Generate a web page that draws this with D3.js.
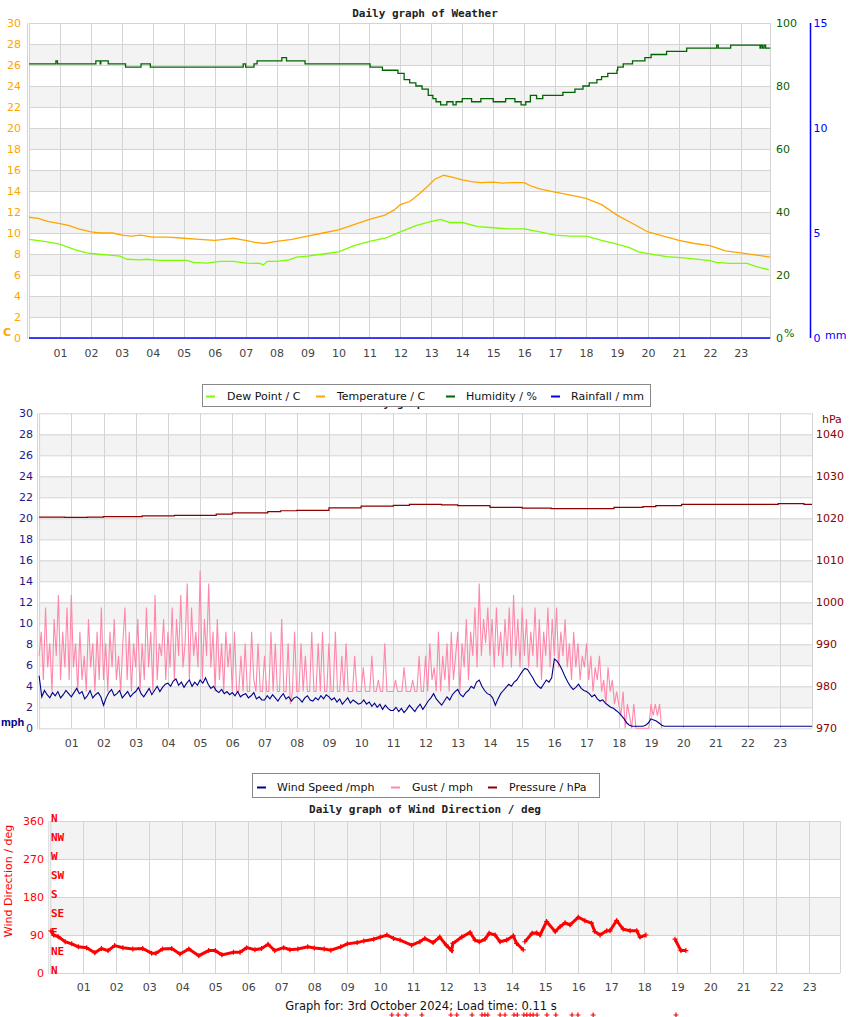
<!DOCTYPE html>
<html><head><meta charset="utf-8">
<script src="https://cdn.jsdelivr.net/npm/d3@7"></script>
<style>body{margin:0;background:#fff;} svg{display:block;font-family:"DejaVu Sans",sans-serif;}</style>
</head><body><svg id="c" width="850" height="1017"></svg>
<script>
// ---------------- DATA ----------------
const hourLabels = ["01","02","03","04","05","06","07","08","09","10","11","12","13","14","15","16","17","18","19","20","21","22","23"];
const tempTicks = [0,2,4,6,8,10,12,14,16,18,20,22,24,26,28,30];
const humTicks = [0,20,40,60,80,100];
const rainTicks = [0,5,10,15];
const windTicks = [0,2,4,6,8,10,12,14,16,18,20,22,24,26,28,30];
const pressTicks = [970,980,990,1000,1010,1020,1030,1040];
const dirTicks = [0,90,180,270,360];
const compassLabels = [["N",360],["NW",315],["W",270],["SW",225],["S",180],["SE",135],["E",90],["NE",45],["N",0]];

// [hour, value]
const humidity = [[0,87],[0.85,87],[0.87,88],[0.92,87],[2.15,87],[2.16,88],[2.3,87],[2.32,88],[2.55,88],[2.56,87],[3.1,87],[3.12,86],[3.6,86],[3.62,87],[3.9,87],[3.92,86],[6.9,86],[6.92,87],[7.0,86],[7.25,86],[7.27,87],[7.35,87],[7.37,88],[8.15,88],[8.17,89],[8.3,89],[8.32,88],[8.9,88],[8.92,87],[11.0,87],[11.02,86],[11.4,86],[11.42,85],[11.9,85],[11.92,84],[12.1,84],[12.12,82],[12.3,81],[12.5,80],[12.7,79],[12.9,77],[13.05,76],[13.15,75],[13.3,74],[13.5,75],[13.7,74],[13.8,75],[14.0,76],[14.3,75],[14.6,76],[15.0,75],[15.4,76],[15.7,75],[15.9,74],[16.05,75],[16.2,77],[16.4,76],[16.6,77],[16.83,77],[17.2,77],[17.25,78],[17.6,78],[17.64,79],[17.9,80],[18.1,81],[18.35,82],[18.5,83],[18.7,84],[19.0,85],[19.02,86],[19.2,87],[19.5,88],[19.9,89],[20.1,90],[20.6,91],[21.25,92],[22.2,92],[22.22,93],[22.27,92],[22.65,92],[22.67,93],[23.6,93],[23.62,92],[23.65,93],[23.7,92],[23.75,93],[23.8,92],[23.95,92]];

const temperature = [[0,11.5],[0.3,11.4],[0.6,11.1],[1,10.9],[1.3,10.7],[1.6,10.4],[2,10.1],[2.3,10.0],[2.7,10.0],[3,9.8],[3.3,9.7],[3.6,9.8],[4,9.6],[4.5,9.6],[5,9.5],[5.5,9.4],[6,9.3],[6.3,9.4],[6.6,9.5],[7,9.3],[7.3,9.1],[7.6,9.0],[8,9.2],[8.5,9.4],[9,9.7],[9.5,10.0],[10,10.3],[10.5,10.8],[11,11.3],[11.5,11.7],[11.8,12.2],[12,12.7],[12.3,13.0],[12.6,13.7],[12.9,14.5],[13.1,15.1],[13.4,15.5],[13.7,15.3],[14,15.05],[14.3,14.9],[14.6,14.8],[15,14.85],[15.3,14.75],[15.6,14.8],[16,14.8],[16.2,14.5],[16.5,14.2],[17,13.9],[17.5,13.6],[18,13.3],[18.5,12.7],[19,11.7],[19.5,10.9],[20,10.1],[20.5,9.7],[21,9.3],[21.5,9.0],[22,8.8],[22.5,8.3],[23,8.1],[23.5,7.9],[23.95,7.7]];

const dewPoint = [[0,9.4],[0.5,9.2],[1,8.95],[1.5,8.4],[1.86,8.1],[2.19,8.0],[2.6,7.9],[2.94,7.8],[3.16,7.5],[3.59,7.45],[3.8,7.5],[4.2,7.4],[5.1,7.4],[5.3,7.2],[5.74,7.14],[6.17,7.3],[6.6,7.3],[7.03,7.14],[7.46,7.1],[7.57,6.95],[7.7,7.3],[8.0,7.3],[8.4,7.45],[8.65,7.7],[9,7.8],[9.5,8.0],[10,8.2],[10.5,8.8],[11,9.2],[11.5,9.5],[12,10.1],[12.5,10.7],[13,11.1],[13.3,11.3],[13.6,11.0],[14,11.0],[14.5,10.6],[15,10.5],[15.5,10.4],[16,10.4],[16.5,10.1],[17,9.8],[17.5,9.7],[18,9.7],[18.5,9.3],[19,8.95],[19.4,8.6],[19.7,8.2],[19.97,8.06],[20.6,7.75],[21.25,7.6],[22.0,7.36],[22.2,7.2],[22.65,7.1],[23.2,7.1],[23.5,6.8],[23.9,6.5]];

const rainfall = [[0,0],[23.95,0]];

// wind speed, 5-minute samples from 00:00 (mph)
const windSpeed = [
 5.0,3.0,3.6,3.2,2.9,3.4,3.1,3.5,2.9,3.2,3.6,3.3,
 3.0,3.4,3.8,3.3,3.5,2.8,3.1,3.6,2.9,3.2,3.4,3.0,
 2.2,2.9,3.4,3.7,3.1,3.3,3.6,2.9,3.2,3.5,3.0,3.3,
 3.5,3.9,3.3,3.0,3.4,3.8,3.2,3.6,4.0,3.5,3.9,4.2,
 4.3,4.0,4.5,4.7,4.1,4.4,3.9,4.3,4.6,4.0,4.4,4.1,
 4.6,4.3,4.8,4.2,3.8,4.0,3.6,3.4,3.7,3.3,3.5,3.2,
 3.4,3.1,3.5,3.0,3.2,3.3,2.9,3.1,3.4,2.8,3.0,2.7,
 2.7,3.1,2.8,3.2,2.9,2.6,3.0,3.3,2.8,3.0,2.6,2.9,
 3.0,2.8,2.5,2.9,3.1,2.7,2.6,2.9,2.7,3.1,2.8,3.2,
 3.0,2.7,2.9,2.5,2.8,2.3,2.6,2.9,2.4,2.7,2.5,2.3,
 2.4,2.7,2.3,2.5,2.1,2.4,2.0,2.3,1.8,2.2,1.9,1.7,
 1.7,2.0,1.6,1.9,1.5,1.8,2.2,1.9,1.6,2.0,2.3,1.8,
 2.2,2.6,2.9,3.3,2.8,2.5,2.2,2.6,3.0,2.7,3.2,3.5,
 3.7,3.2,3.0,3.4,3.6,4.0,3.8,4.4,4.6,4.0,3.6,3.3,
 3.2,2.9,2.2,2.8,3.3,3.6,3.9,4.2,4.0,4.4,4.6,5.0,
 5.4,5.7,5.6,5.2,4.8,4.3,4.0,3.8,4.2,4.6,4.4,4.8,
 6.6,6.4,6.0,5.5,4.9,4.4,4.0,3.7,3.9,4.2,3.8,3.6,
 3.5,3.3,3.0,3.2,2.8,2.6,2.7,2.4,2.2,2.0,1.9,1.7,
 1.5,1.2,0.9,0.5,0.3,0.2,0.2,0.2,0.2,0.2,0.3,0.5,
 0.9,0.8,0.7,0.5,0.3,0.2];
const windTail = [[19.5,0.2],[24,0.2]];

// gust, 4-minute samples from 00:00 (mph)
const gust = [
 6.9,9.2,4.6,11.5,5.8,8.1,3.5,10.4,6.9,12.7,4.6,9.2,5.8,11.5,4.6,
 12.7,5.8,8.1,3.5,9.2,4.6,6.9,3.5,10.4,5.8,8.1,3.5,9.2,4.6,11.5,
 4.6,8.1,3.5,9.2,5.8,10.4,4.6,6.9,3.5,8.1,11.5,4.6,9.2,3.5,8.1,
 5.8,10.4,3.5,8.1,4.6,11.5,5.8,9.2,3.5,12.7,4.6,8.1,6.9,10.4,4.6,
 9.2,5.8,11.5,4.6,10.4,6.9,12.7,5.8,8.1,13.8,4.6,11.5,6.9,9.2,5.8,
 15.0,4.6,10.4,6.9,13.8,5.8,9.2,3.5,10.4,4.6,8.1,3.5,9.2,5.8,8.1,
 3.5,9.2,3.5,3.5,6.9,3.5,8.1,3.5,3.5,9.2,4.6,3.5,8.1,3.5,3.5,
 6.9,3.5,3.5,9.2,3.5,8.1,3.5,3.5,10.4,3.5,3.5,8.1,2.3,3.5,9.2,
 3.5,3.5,8.1,3.5,6.9,3.5,3.5,9.2,3.5,3.5,8.1,3.5,9.2,3.5,3.5,
 8.1,3.5,3.5,9.2,3.5,3.5,6.9,3.5,8.1,3.5,3.5,3.5,6.9,3.5,3.5,
 3.5,5.8,3.5,3.5,3.5,6.9,3.5,3.5,4.6,3.5,3.5,8.1,3.5,3.5,3.5,
 3.5,4.6,3.5,3.5,3.5,5.8,3.5,3.5,3.5,4.6,3.5,3.5,6.9,3.5,3.5,
 6.9,3.5,8.1,4.6,5.8,3.5,9.2,3.5,6.9,4.6,8.1,3.5,9.2,4.6,6.9,
 9.2,3.5,8.1,5.8,10.4,4.6,9.2,6.9,11.5,5.8,13.8,6.9,10.4,8.1,11.5,
 6.9,10.4,5.8,11.5,6.9,9.2,5.8,10.4,6.9,11.5,5.8,12.7,6.9,10.4,5.8,
 11.5,6.9,10.4,5.8,9.2,6.9,11.5,5.8,10.4,4.6,9.2,6.9,11.5,5.8,10.4,
 6.9,11.5,5.8,9.2,6.9,10.4,5.8,8.1,4.6,9.2,5.8,8.1,4.6,6.9,5.8,
 8.1,4.6,6.9,3.5,5.8,4.6,6.9,3.5,4.6,2.3,5.8,3.5,4.6,2.3,3.5,
 2.3,1.2,3.5,0,2.3,1.2,0,2.3,0,0,0,0,0,0,0,
 2.3,1.2,2.3,1.2,2.3,0];

const pressure = [[0,1020.3],[0.8,1020.2],[1.5,1020.3],[2,1020.4],[3.2,1020.6],[4.2,1020.7],[5.5,1021.0],[6,1021.3],[7.1,1021.6],[7.5,1021.8],[8,1021.9],[9,1022.5],[10,1022.9],[11,1023.1],[11.5,1023.3],[12.5,1023.2],[13,1023.0],[14,1022.6],[15,1022.4],[15.9,1022.3],[17.8,1022.3],[17.85,1022.6],[18.7,1022.6],[18.75,1022.8],[19.1,1022.8],[19.15,1023.0],[19.9,1023.0],[19.95,1023.3],[22.9,1023.3],[22.95,1023.5],[23.7,1023.5],[23.75,1023.3],[24,1023.3]];

// wind direction [hour, deg]
const windDir = [[0.02,100],[0.1,90],[0.24,86],[0.45,74],[0.65,69],[0.85,62],[1.1,60],[1.35,48],[1.55,58],[1.75,53],[1.95,65],[2.2,60],[2.5,57],[2.8,58],[3.07,47],[3.2,47],[3.4,57],[3.68,58],[3.93,45],[4.2,57],[4.5,41],[4.8,53],[5.0,53],[5.2,43],[5.55,49],[5.75,49],[5.95,60],[6.2,55],[6.4,58],[6.6,68],[6.8,53],[7.07,60],[7.26,55],[7.5,57],[7.8,62],[8.0,59],[8.3,57],[8.5,54],[8.8,62],[9.0,69],[9.3,72],[9.5,76],[9.8,80],[10.0,85],[10.2,90],[10.4,82],[10.6,78],[10.95,66],[11.2,74],[11.35,82],[11.6,72],[11.8,85],[12.0,66],[12.16,53],[12.2,70],[12.47,85],[12.72,96],[12.87,78],[13.0,74],[13.17,80],[13.3,94],[13.48,90],[13.63,74],[13.83,78],[14.03,88],[14.13,70],[14.33,55],[null,null],[14.38,74],[14.6,94],[14.74,95],[14.84,90],[15.04,122],[15.3,98],[15.45,110],[15.6,119],[15.75,114],[16.0,132],[16.2,124],[16.4,118],[16.5,98],[16.66,90],[16.86,100],[16.96,100],[17.16,124],[17.36,104],[17.57,100],[17.77,100],[17.87,85],[18.05,90],[null,null],[18.93,80],[19.11,53],[19.26,53]];

// stray direction markers at the bottom edge [hour]
const strayMarks = [10.35,10.54,10.78,11.26,12.14,12.32,12.78,13.08,13.17,13.26,13.63,13.78,14.05,14.15,14.35,14.44,14.54,14.63,14.75,15.05,15.32,15.81,15.99,16.45,18.96];

// ---------------- DRAW ----------------
const svg = d3.select("#c");
const GRID = "#d4d4d4", BAND = "#f3f3f3", TICK = "#444";
const MONO = "'DejaVu Sans Mono',monospace";

function panel(o){
  const g = svg.append("g");
  const x = d3.scaleLinear().domain([0,24]).range([o.x0,o.x24]);
  const y = d3.scaleLinear().domain(o.yDom).range([o.bottom,o.top]);
  const bt = o.bandTicks;
  for(let i=0;i<bt.length-1;i++){
    if(o.bandOn(i)) g.append("rect").attr("x",o.x0).attr("width",o.right-o.x0)
      .attr("y",y(bt[i+1])).attr("height",y(bt[i])-y(bt[i+1])).attr("fill",BAND);
  }
  g.selectAll(null).data(bt).enter().append("line")
    .attr("x1",o.x0).attr("x2",o.right).attr("y1",d=>y(d)+0.5).attr("y2",d=>y(d)+0.5)
    .attr("stroke",GRID);
  const hrs = d3.range(1,24);
  g.selectAll(null).data(hrs).enter().append("line")
    .attr("x1",d=>Math.round(x(d))+0.5).attr("x2",d=>Math.round(x(d))+0.5)
    .attr("y1",o.top).attr("y2",o.bottom).attr("stroke",GRID);
  g.append("line").attr("x1",o.x0-1.5).attr("x2",o.x0-1.5).attr("y1",o.top).attr("y2",o.bottom+1).attr("stroke",GRID);
  g.append("line").attr("x1",o.x0+0.5).attr("x2",o.x0+0.5).attr("y1",o.top).attr("y2",o.bottom+1).attr("stroke",GRID);
  g.append("line").attr("x1",o.right+0.5).attr("x2",o.right+0.5).attr("y1",o.top).attr("y2",o.bottom).attr("stroke",GRID);
  const xa = d3.axisBottom(x).tickValues(hrs).tickFormat((d,i)=>hourLabels[i]).tickSize(0).tickPadding(0);
  const ax = g.append("g").attr("transform",`translate(0,${o.labelY})`).call(xa);
  ax.select(".domain").remove();
  ax.selectAll("text").attr("fill",TICK).attr("font-size",11).attr("font-family","DejaVu Sans").attr("dy","0.35em").attr("y",0);
  const ya = d3.axisLeft(y).tickValues(o.leftTicks).tickFormat(d3.format("d")).tickSize(0).tickPadding(0);
  const ay = g.append("g").attr("transform",`translate(${o.leftLabelX},0)`).call(ya);
  ay.select(".domain").remove();
  ay.selectAll("text").attr("fill",o.leftColor).attr("font-size",11).attr("font-family","DejaVu Sans").attr("x",0);
  return {g,x,y};
}

// ===== Panel 1 =====
svg.append("text").attr("x",425).attr("y",17).attr("text-anchor","middle")
  .attr("font-family",MONO).attr("font-weight","bold").attr("font-size",11).attr("fill","#222").text("Daily graph of Weather");
const p1 = panel({x0:29,x24:771.8,right:770,top:23,bottom:338,yDom:[0,30],
  bandTicks:tempTicks,bandOn:i=>i%2===1 && i<14,leftTicks:tempTicks,leftColor:"#FFA500",leftLabelX:21,labelY:353});
const yHum = d3.scaleLinear().domain([0,100]).range([338,23]);
const yRain = d3.scaleLinear().domain([0,15]).range([338,23]);
const line1 = (ys)=>d3.line().x(d=>p1.x(d[0])).y(d=>ys(d[1]));
const stepLine = (ys)=>d3.line().x(d=>p1.x(d[0])).y(d=>ys(d[1])).curve(d3.curveStepAfter);
p1.g.append("path").attr("d",line1(p1.y)(rainfall)).attr("fill","none").attr("stroke","#0000FF").attr("stroke-width",1.5);
p1.g.append("path").attr("d",stepLine(yHum)(humidity)).attr("fill","none").attr("stroke","#006400").attr("stroke-width",1.3);
p1.g.append("path").attr("d",line1(p1.y)(temperature)).attr("fill","none").attr("stroke","#FFA500").attr("stroke-width",1.3);
p1.g.append("path").attr("d",line1(p1.y)(dewPoint)).attr("fill","none").attr("stroke","#7CFC00").attr("stroke-width",1.3);
const ah = svg.append("g").attr("transform","translate(776,0)").call(d3.axisRight(yHum).tickValues(humTicks).tickSize(0).tickPadding(0));
ah.select(".domain").remove();
ah.selectAll("text").attr("fill","#006400").attr("font-size",11).attr("font-family","DejaVu Sans");
const ar = svg.append("g").attr("transform","translate(810.5,0)").call(d3.axisRight(yRain).tickValues(rainTicks).tickSize(0).tickPadding(3));
ar.select(".domain").attr("stroke","#0000FF").attr("stroke-width",1.5).attr("d","M0,23V338");
ar.selectAll("text").attr("fill","#0000FF").attr("font-size",11).attr("font-family","DejaVu Sans");
svg.append("text").attr("x",3).attr("y",336).attr("font-weight","bold").attr("font-size",11).attr("fill","#FFA500").text("C");
svg.append("text").attr("x",784).attr("y",337).attr("font-size",11).attr("fill","#006400").text("%");
svg.append("text").attr("x",825).attr("y",339).attr("font-size",11).attr("fill","#0000FF").text("mm");

// ===== Panel 2 =====
svg.append("text").attr("x",420).attr("y",407).attr("text-anchor","middle")
  .attr("font-family",MONO).attr("font-weight","bold").attr("font-size",11).attr("fill","#222").text("Daily graph of Wind");
const p2 = panel({x0:39.1,x24:812,right:812,top:413.3,bottom:728.3,yDom:[0,30],
  bandTicks:windTicks,bandOn:i=>i%2===1 && i<14,leftTicks:windTicks,leftColor:"#1a1a8c",leftLabelX:33,labelY:743});
const yP = d3.scaleLinear().domain([970,1045]).range([728.3,413.3]);
const gustPts = gust.map((v,i)=>[i/15,v]);
const windPts = windSpeed.map((v,i)=>[i/12,v]).concat(windTail);
p2.g.append("path").attr("d",d3.line().x(d=>p2.x(d[0])).y(d=>p2.y(d[1]))(gustPts)).attr("fill","none").attr("stroke","#ff88aa").attr("stroke-width",1.1);
p2.g.append("path").attr("d",d3.line().x(d=>p2.x(d[0])).y(d=>p2.y(d[1]))(windPts)).attr("fill","none").attr("stroke","#00008B").attr("stroke-width",1.1);
p2.g.append("path").attr("d",d3.line().x(d=>p2.x(d[0])).y(d=>yP(d[1])).curve(d3.curveStepAfter)(pressure)).attr("fill","none").attr("stroke","#8B0000").attr("stroke-width",1.2);
const ap = svg.append("g").attr("transform","translate(816,0)").call(d3.axisRight(yP).tickValues(pressTicks).tickFormat(d3.format("d")).tickSize(0).tickPadding(0));
ap.select(".domain").remove();
ap.selectAll("text").attr("fill","#8B0000").attr("font-size",11).attr("font-family","DejaVu Sans");
svg.append("text").attr("x",822).attr("y",423).attr("font-size",11).attr("fill","#8B0000").text("hPa");
svg.append("text").attr("x",1).attr("y",726).attr("font-weight","bold").attr("font-size",11).attr("font-family","Liberation Sans")
  .attr("fill","#00008B").text("mph");

// ===== Legends =====
function legend(x0,y0,w,h,items,ty){
  const g = svg.append("g");
  g.append("rect").attr("x",x0+0.5).attr("y",y0+0.5).attr("width",w).attr("height",h).attr("fill","#fff").attr("stroke","#888");
  items.forEach(it=>{
    g.append("line").attr("x1",it.lx).attr("x2",it.lx+9).attr("y1",ty+0.5).attr("y2",ty+0.5).attr("stroke",it.c).attr("stroke-width",2);
    g.append("text").attr("x",it.tx).attr("y",ty).attr("dy","0.35em").attr("font-size",11).attr("fill","#111").text(it.t);
  });
}
legend(202,384,448,22,[{lx:206,tx:227,c:"#7CFC00",t:"Dew Point / C"},{lx:316,tx:337,c:"#FFA500",t:"Temperature / C"},
  {lx:446,tx:466,c:"#006400",t:"Humidity / %"},{lx:551,tx:571,c:"#0000FF",t:"Rainfall / mm"}],396);
legend(252,773,347,24,[{lx:257,tx:277,c:"#00008B",t:"Wind Speed /mph"},{lx:391,tx:412,c:"#ff88aa",t:"Gust / mph"},
  {lx:488,tx:509,c:"#8B0000",t:"Pressure / hPa"}],787);

// ===== Panel 3 =====
svg.append("text").attr("x",425).attr("y",813).attr("text-anchor","middle")
  .attr("font-family",MONO).attr("font-weight","bold").attr("font-size",11).attr("fill","#222").text("Daily graph of Wind Direction / deg");
const p3 = panel({x0:50.3,x24:842.3,right:840,top:821,bottom:973,yDom:[0,360],
  bandTicks:dirTicks,bandOn:i=>i%2===1,leftTicks:dirTicks,leftColor:"#FF0000",leftLabelX:44,labelY:987});
svg.append("text").attr("transform","translate(12,881) rotate(-90)").attr("text-anchor","middle")
  .attr("font-size",11).attr("fill","#FF0000").text("Wind Direction / deg");
svg.selectAll(null).data(compassLabels).enter().append("text")
  .attr("x",51).attr("y",d=>p3.y(d[1])-3).attr("dy","0.35em").attr("font-family",MONO).attr("font-weight","bold")
  .attr("font-size",11).attr("fill","#FF0000").text(d=>d[0]);
const dirLine = d3.line().defined(d=>d[0]!==null).x(d=>p3.x(d[0])).y(d=>p3.y(d[1]));
p3.g.append("path").attr("d",dirLine(windDir)).attr("fill","none").attr("stroke","#FF0000").attr("stroke-width",3);
const cross = (gg,cx,cy)=>gg.append("path").attr("d",`M${cx-2.5},${cy}H${cx+2.5}M${cx},${cy-2.5}V${cy+2.5}`).attr("stroke","#FF0000").attr("stroke-width",1.2);
windDir.filter(d=>d[0]!==null).forEach(d=>cross(p3.g,p3.x(d[0]),p3.y(d[1])));
strayMarks.forEach(h=>cross(svg,p3.x(h),1015));

svg.append("text").attr("x",421).attr("y",1006).attr("dy","0.35em").attr("text-anchor","middle")
  .attr("font-size",11.5).attr("fill","#111").text("Graph for: 3rd October 2024; Load time: 0.11 s");
</script></body></html>
